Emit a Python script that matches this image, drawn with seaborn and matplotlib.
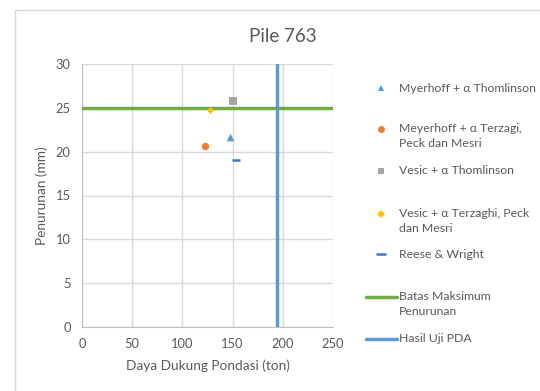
import pandas as pd
import matplotlib.pyplot as plt
import seaborn as sns
from matplotlib.lines import Line2D
from matplotlib.patches import Rectangle

metode = ['Myerhoff + α Thomlinson',
          'Meyerhoff + α Terzagi,\nPeck dan Mesri',
          'Vesic + α Thomlinson',
          'Vesic + α Terzaghi, Peck\ndan Mesri',
          'Reese & Wright']
daya_dukung = [147.5, 123, 150, 127, 153]
penurunan = [21.7, 20.7, 25.8, 24.7, 19.0]
warna = ['#5B9BD5', '#ED7D31', '#A5A5A5', '#FFC000', '#4472C4']
penanda = ['^', 'o', 's', 'D', '_']
ukuran = [30, 28, 30, 13, 40]

batas_maks = 25
hasil_pda = 194

sns.set_style('white')
plt.rcParams['font.family'] = ['Lato', 'DejaVu Sans']
txt = '#595959'

fig = plt.figure(figsize=(5.4, 3.91), dpi=100)
ax = fig.add_axes([82 / 540, 1 - 327 / 391, 251 / 540, 263 / 391])

# chart area border
fig.add_artist(Rectangle((15 / 540, -0.1), 1.0, 1 - 10 / 391 + 0.1,
                         transform=fig.transFigure, fill=False,
                         edgecolor='#D9D9D9', lw=1))

df = pd.DataFrame({'x': daya_dukung, 'y': penurunan, 'm': metode})
for i, row in df.iterrows():
    sns.scatterplot(x=[row['x']], y=[row['y']], ax=ax, marker=penanda[i],
                    color=warna[i], s=ukuran[i], linewidth=1.8 if penanda[i] == '_' else 0,
                    zorder=4, legend=False)

ax.axhline(batas_maks, color='#70AD47', lw=2.5, zorder=3)
ax.axvline(hasil_pda, color='#5B9BD5', lw=2.5, zorder=3)

ax.set_xlim(0, 250)
ax.set_ylim(0, 30)
ax.set_xticks(range(0, 251, 50))
ax.set_yticks(range(0, 31, 5))
ax.grid(True, color='#D9D9D9', lw=1)
ax.set_axisbelow(True)
for s in ['top', 'right']:
    ax.spines[s].set_visible(False)
for s in ['left', 'bottom']:
    ax.spines[s].set_color('#BFBFBF')
ax.tick_params(length=0, labelsize=9.3, labelcolor=txt, pad=8)
ax.set_xlabel('Daya Dukung Pondasi (ton)', fontsize=9.8, color=txt, labelpad=7)
ax.set_ylabel('Penurunan (mm)', fontsize=9.8, color=txt, labelpad=6)
fig.text(283 / 540, 1 - 36 / 391, 'Pile 763', ha='center', va='center',
         fontsize=13.5, color=txt)

# legend, drawn by hand so that labels wrap downward from the marker
ys = [88, 129, 171, 214, 254]
for i, lab in enumerate(metode):
    y = 1 - ys[i] / 391
    fig.add_artist(Line2D([381 / 540], [y], marker=penanda[i], color=warna[i],
                          markersize={'D': 4}.get(penanda[i], 5) if penanda[i] != '_' else 7,
                          markeredgewidth=0 if penanda[i] != '_' else 1.8,
                          linestyle='none', transform=fig.transFigure))
    fig.text(399 / 540, y + 5.5 / 391, lab, ha='left', va='top', fontsize=8.8,
             color=txt, linespacing=1.4)
for y0, col, lab in [(297, '#70AD47', 'Batas Maksimum\nPenurunan'),
                     (339, '#5B9BD5', 'Hasil Uji PDA')]:
    y = 1 - y0 / 391
    fig.add_artist(Line2D([366 / 540, 397 / 540], [y, y], color=col, lw=2.5,
                          transform=fig.transFigure))
    fig.text(399 / 540, y + 5.5 / 391, lab, ha='left', va='top', fontsize=8.8,
             color=txt, linespacing=1.4)

fig.savefig('out.png', dpi=100)
